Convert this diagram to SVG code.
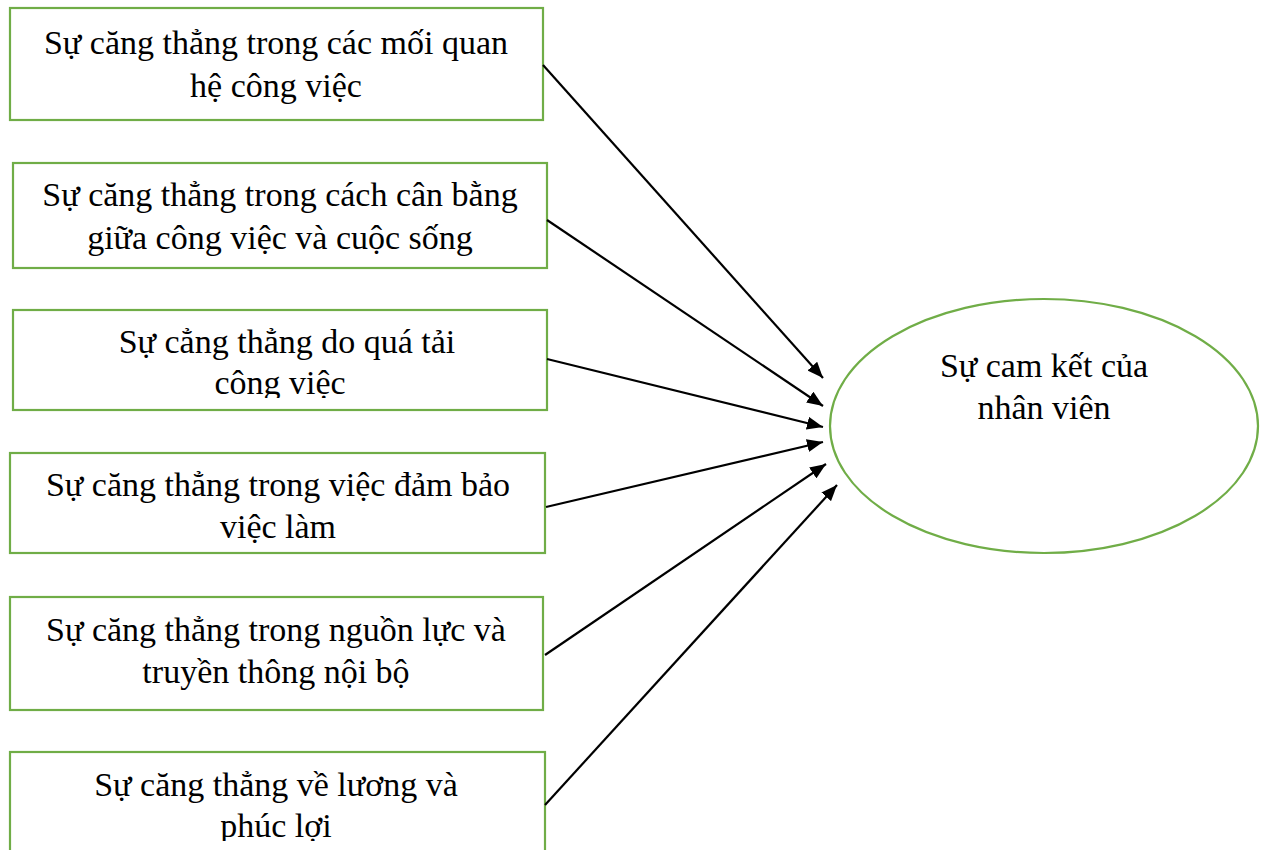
<svg xmlns="http://www.w3.org/2000/svg" width="1267" height="850" viewBox="0 0 1267 850">
<style>
.box{fill:#fff;stroke:#70ad47;stroke-width:2.2}
.t{font-family:"Liberation Serif","Times New Roman",serif;font-size:34px;fill:#000;text-anchor:middle}
.c{stroke:#000;stroke-width:2.2;fill:none;marker-end:url(#ah)}
</style>
<defs>
<marker id="ah" viewBox="0 0 16 13" refX="16" refY="6.5" markerWidth="16" markerHeight="13" markerUnits="userSpaceOnUse" orient="auto"><path d="M0,0 L16,6.5 L0,13 z" fill="#000"/></marker>
<clipPath id="cp3"><rect x="13" y="310" width="534" height="88"/></clipPath>
<clipPath id="cp6"><rect x="13" y="752" width="534" height="89"/></clipPath>
</defs>
<rect width="1267" height="850" fill="#fff"/>
<g id="n1"><rect class="box" x="10" y="8" width="533" height="112"/><text class="t" x="276" y="54">Sự căng thẳng trong các mối quan</text><text class="t" x="276" y="97">hệ công việc</text></g>
<g id="n2"><rect class="box" x="13" y="163" width="534" height="105"/><text class="t" x="280" y="206">Sự căng thẳng trong cách cân bằng</text><text class="t" x="280" y="249">giữa công việc và cuộc sống</text></g>
<g id="n3"><rect class="box" x="13" y="310" width="534" height="100"/><g clip-path="url(#cp3)"><text class="t" x="287" y="353">Sự cẳng thẳng do quá tải</text><text class="t" x="280" y="394">công việc</text></g></g>
<g id="n4"><rect class="box" x="10" y="453" width="535" height="100"/><text class="t" x="278" y="496">Sự căng thẳng trong việc đảm bảo</text><text class="t" x="278" y="538">việc làm</text></g>
<g id="n5"><rect class="box" x="10" y="597" width="533" height="113"/><text class="t" x="276" y="641">Sự căng thẳng trong nguồn lực và</text><text class="t" x="276" y="683">truyền thông nội bộ</text></g>
<g id="n6"><rect class="box" x="10" y="752" width="535" height="110"/><g clip-path="url(#cp6)"><text class="t" x="276" y="796">Sự căng thẳng về lương và</text><text class="t" x="276" y="837">phúc lợi</text></g></g>
<g id="target"><ellipse cx="1044" cy="426" rx="214" ry="127" fill="#fff" stroke="#70ad47" stroke-width="2.2"/><text class="t" x="1044" y="377">Sự cam kết của</text><text class="t" x="1044" y="419">nhân viên</text></g>
<g id="connectors">
<line class="c" x1="543" y1="65" x2="823" y2="378"/>
<line class="c" x1="547" y1="220" x2="823" y2="406"/>
<line class="c" x1="547" y1="359" x2="823" y2="427"/>
<line class="c" x1="546" y1="507" x2="823" y2="442"/>
<line class="c" x1="545" y1="655" x2="826" y2="464"/>
<line class="c" x1="545" y1="805" x2="837" y2="485"/>
</g>
</svg>
